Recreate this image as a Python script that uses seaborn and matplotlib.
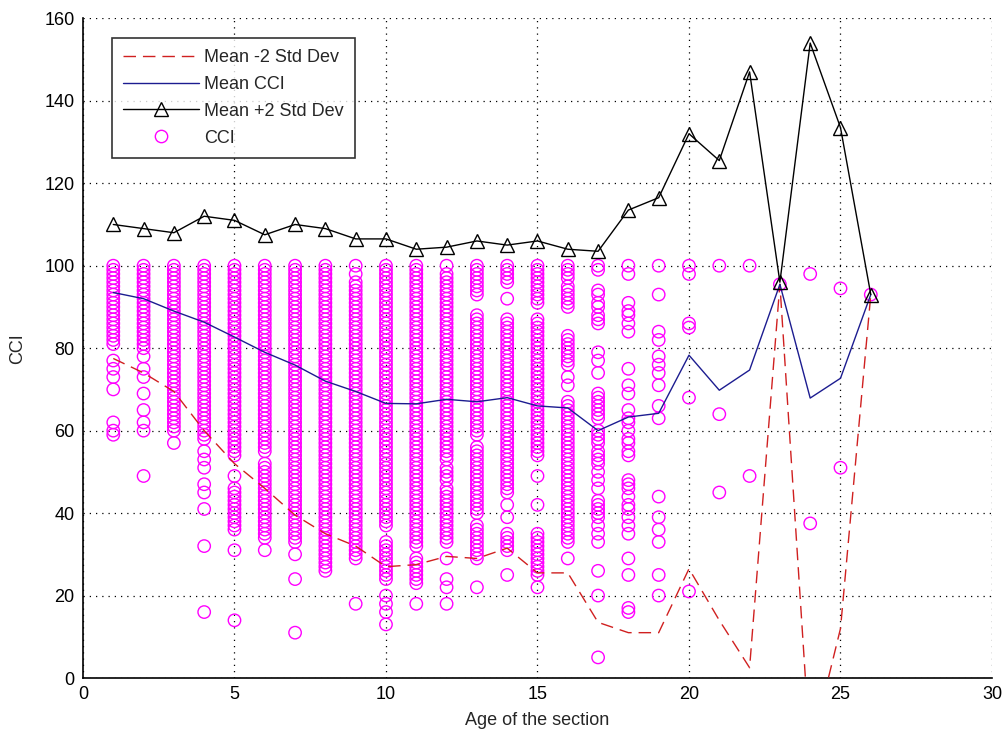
import numpy as np
import pandas as pd
import matplotlib
matplotlib.use("Agg")
import matplotlib.pyplot as plt
import seaborn as sns
from matplotlib.lines import Line2D

# ---------------- data ----------------
ages = list(range(1, 27))

mean_minus_2sd = [77.5, 74, 69.5, 60, 52, 46, 39.5, 35, 32, 27, 27.5, 29.5, 29, 31.5, 25.5,
                  25.5, 13.5, 11, 11, 26.5, 14, 2.5, 95.5, -18, 12, 93]
mean_cci = [93.5, 92, 89, 86.3, 82.7, 79, 75.9, 72, 69.5, 66.6, 66.5, 67.6, 67, 68, 66,
            65.5, 60, 63.3, 64.2, 78.3, 69.8, 74.7, 95.5, 67.9, 72.7, 93]
mean_plus_2sd = [110, 109, 108, 112, 111, 107.5, 110, 109, 106.5, 106.5, 104, 104.5, 106, 105, 106,
                 104, 103.5, 113.5, 116.5, 132, 125.5, 147, 96, 154, 133.5, 93]

cci_01 = [100, 99, 98, 97, 96, 95, 94, 93, 92, 91, 90, 89, 88, 87, 86, 85, 84, 83, 82, 81,
          77, 75, 73, 70, 62, 60, 59]
cci_02 = [100, 99, 98, 97, 96, 95, 94, 93, 92, 91, 90, 89, 88, 87, 86, 85, 84, 83, 82, 81, 80,
          78, 75, 73, 69, 65, 62, 60, 49]
cci_03 = [100, 99, 98, 97, 96, 95, 94, 93, 92, 91, 90, 89, 88, 87, 86, 85, 84, 83, 82, 81, 80,
          79, 78, 77, 76, 75, 74, 73, 72, 71, 70, 69, 68, 67, 66, 65, 64, 63, 62, 61, 60, 57]
cci_04 = [100, 99, 98, 97, 96, 95, 94, 93, 92, 91, 90, 89, 88, 87, 86, 85, 84, 83, 82, 81, 80,
          79, 78, 77, 76, 75, 74, 73, 72, 71, 70, 69, 68, 67, 66, 65, 64, 63, 62, 61, 60, 59, 58,
          55, 53, 51, 47, 45, 41, 32, 16]
cci_05 = [100, 99, 98, 97, 96, 95, 94, 93, 92, 91, 90, 89, 88, 87, 86, 85, 84, 83, 82, 81, 80,
          79, 78, 77, 76, 75, 74, 73, 72, 71, 70, 69, 68, 67, 66, 65, 64, 63, 62, 61, 60, 59, 58,
          57, 56, 55, 54, 49, 46, 45, 44, 43, 42, 41, 40, 39, 38, 37, 36, 31, 14]
cci_06 = [100, 99, 98, 97, 96, 95, 94, 93, 92, 91, 90, 89, 88, 87, 86, 85, 84, 83, 82, 81, 80,
          79, 78, 77, 76, 75, 74, 73, 72, 71, 70, 69, 68, 67, 66, 65, 64, 63, 62, 61, 60, 59, 58,
          57, 56, 55, 52, 51, 50, 49, 48, 47, 46, 45, 44, 43, 42, 41, 40, 39, 38, 37, 36, 35, 34,
          31]
cci_07 = [100, 99, 98, 97, 96, 95, 94, 93, 92, 91, 90, 89, 88, 87, 86, 85, 84, 83, 82, 81, 80,
          79, 78, 77, 76, 75, 74, 73, 72, 71, 70, 69, 68, 67, 66, 65, 64, 63, 62, 61, 60, 59, 58,
          57, 56, 55, 54, 53, 52, 51, 50, 49, 48, 47, 46, 45, 44, 43, 42, 41, 40, 39, 38, 37, 36,
          35, 34, 33, 30, 24, 11]
cci_08 = [100, 99, 98, 97, 96, 95, 94, 93, 92, 91, 90, 89, 88, 87, 86, 85, 84, 83, 82, 81, 80,
          79, 78, 77, 76, 75, 74, 73, 72, 71, 70, 69, 68, 67, 66, 65, 64, 63, 62, 61, 60, 59, 58,
          57, 56, 55, 54, 53, 52, 51, 50, 49, 48, 47, 46, 45, 44, 43, 42, 41, 40, 39, 38, 37, 36,
          35, 34, 33, 32, 31, 30, 29, 28, 27, 26]
cci_09 = [100, 98, 96, 95, 94, 93, 92, 91, 90, 89, 88, 87, 86, 85, 84, 83, 82, 81, 80,
          79, 78, 77, 76, 75, 74, 73, 72, 71, 70, 69, 68, 67, 66, 65, 64, 63, 62, 61, 60, 59, 58,
          57, 56, 55, 54, 53, 52, 51, 50, 49, 48, 47, 46, 45, 44, 43, 42, 41, 40, 39, 38, 37, 36,
          35, 34, 33, 32, 31, 30, 29, 18]
cci_10 = [100, 99, 98, 97, 96, 95, 94, 93, 92, 91, 90, 89, 88, 87, 86, 85, 84, 83, 82, 81, 80,
          79, 78, 77, 76, 75, 74, 73, 72, 71, 70, 69, 68, 67, 66, 65, 64, 63, 62, 61, 60, 59, 58,
          57, 56, 55, 54, 53, 52, 51, 50, 49, 48, 47, 46, 45, 44, 43, 42, 41, 40, 39, 38, 37,
          33, 32, 31, 30, 29, 28, 27, 26, 25, 24, 20, 18, 16, 13]
cci_11 = [100, 99, 98, 97, 96, 95, 94, 93, 92, 91, 90, 89, 88, 87, 86, 85, 84, 83, 82, 81, 80,
          79, 78, 77, 76, 75, 74, 73, 72, 71, 70, 69, 68, 67, 66, 65, 64, 63, 62, 61, 60, 59, 58,
          57, 56, 55, 54, 53, 52, 51, 50, 49, 48, 47, 46, 45, 44, 43, 42, 41, 40, 39, 38, 37, 36,
          35, 34, 33, 32, 29, 28, 27, 26, 25, 24, 23, 18]
cci_12 = [100, 98, 97, 96, 95, 94, 93, 92, 91, 90, 89, 88, 87, 86, 85, 84, 83, 82, 81, 80,
          79, 78, 77, 76, 75, 74, 73, 72, 71, 70, 69, 68, 67, 66, 65, 64, 63, 62, 61, 60, 59, 58,
          57, 56, 55, 54, 53, 51, 50, 49, 48, 46, 45, 44, 43, 42, 41, 40, 39, 38, 37, 36,
          35, 34, 33, 29, 24, 22, 18]
cci_13 = [100, 99, 98, 97, 96, 95, 94, 93, 88, 87, 86, 85, 84, 83, 82, 81, 80,
          79, 78, 77, 76, 75, 74, 73, 72, 71, 70, 69, 68, 67, 66, 65, 64, 63, 62, 61, 60, 59,
          56, 55, 54, 53, 52, 51, 50, 49, 48, 47, 46, 45, 44, 43, 42, 41, 40,
          37, 36, 35, 34, 33, 32, 31, 30, 29, 22]
cci_14 = [100, 99, 98, 97, 96, 92, 87, 86, 85, 84, 83, 82, 81, 80,
          79, 78, 77, 76, 75, 74, 73, 72, 71, 70, 69, 68, 67, 66, 65, 64, 63, 62, 61, 60, 59, 58,
          57, 56, 55, 54, 53, 52, 51, 50, 49, 48, 47, 46, 45, 42, 39, 35, 34, 33, 32, 31, 25]
cci_15 = [100, 99, 98, 97, 96, 95, 94, 93, 92, 91, 87, 86, 85, 84, 83, 82, 81, 80,
          79, 78, 77, 76, 75, 74, 73, 72, 71, 70, 69, 68, 67, 66, 65, 64, 63, 62, 61, 60, 59, 58,
          57, 56, 55, 54, 49, 42, 35, 34, 33, 32, 31, 30, 29, 28, 27, 26, 25, 22]
cci_16 = [100, 99, 98, 97, 95, 94, 93, 92, 91, 90, 83, 82, 81, 80, 79, 78, 77, 76, 73, 71,
          67, 66, 65, 64, 63, 62, 61, 60, 59, 58, 57, 56, 55, 54, 53, 52, 51, 50, 49, 48, 47, 46,
          45, 44, 43, 42, 41, 40, 39, 38, 37, 36, 35, 34, 33, 29]
cci_17 = [100, 99, 94, 93, 91, 90, 88, 87, 86, 79, 77, 74, 69, 68, 67, 66, 65, 64, 63,
          60, 59, 58, 57, 55, 54, 53, 52, 50, 48, 46, 43, 42, 41, 40, 39, 37, 35, 33, 26, 20, 5]
cci_18 = [100, 98, 91, 89, 88, 86, 84, 75, 71, 69, 65, 63, 62, 60, 58, 57, 55, 54,
          48, 47, 46, 44, 42, 41, 39, 37, 35, 29, 25, 17, 16]
cci_19 = [100, 93, 84, 82, 78, 76, 74, 71, 66, 63, 44, 39, 36, 33, 25, 20]
cci_20 = [100, 98, 86, 85, 68, 21]
cci_21 = [100, 64, 45]
cci_22 = [100, 49]
cci_23 = [95.5]
cci_24 = [98, 37.5]
cci_25 = [94.5, 51]
cci_26 = [93]

cci_by_age = [cci_01, cci_02, cci_03, cci_04, cci_05, cci_06, cci_07, cci_08, cci_09, cci_10,
              cci_11, cci_12, cci_13, cci_14, cci_15, cci_16, cci_17, cci_18, cci_19, cci_20,
              cci_21, cci_22, cci_23, cci_24, cci_25, cci_26]

x_ticks = [0, 5, 10, 15, 20, 25, 30]
y_ticks = [0, 20, 40, 60, 80, 100, 120, 140, 160]

points = pd.DataFrame({
    "age": np.repeat(ages, [len(c) for c in cci_by_age]),
    "cci": np.concatenate([np.asarray(c, dtype=float) for c in cci_by_age]),
})
lines = pd.DataFrame({"age": ages, "minus": mean_minus_2sd, "mean": mean_cci, "plus": mean_plus_2sd})

# ---------------- style ----------------
sns.set_style("white")
plt.rcParams["font.family"] = ["Liberation Sans", "DejaVu Sans"]

fig = plt.figure(figsize=(10.07, 7.33), dpi=100)
ax = fig.add_axes([0.0824, 0.075, 0.9027, 0.9])

MAG = "#ff00ff"
RED = "#d02020"
BLUE = "#1c1c90"
DASH = [9, 5]

sns.scatterplot(data=points, x="age", y="cci", marker="o", s=80, linewidth=1.0,
                ax=ax, zorder=2, legend=False)
pts = ax.collections[-1]
pts.set_facecolor("none")
pts.set_edgecolor(MAG)

sns.lineplot(data=lines, x="age", y="minus", ax=ax, color=RED, linewidth=1.0,
             zorder=3, legend=False)
ax.lines[-1].set_dashes(DASH)
sns.lineplot(data=lines, x="age", y="mean", ax=ax, color=BLUE, linewidth=1.0, zorder=3, legend=False)
sns.lineplot(data=lines, x="age", y="plus", ax=ax, color="black", linewidth=1.0,
             marker="^", markersize=10.5, markerfacecolor="none", markeredgecolor="black",
             markeredgewidth=1.0, zorder=4, legend=False)

ax.set_xlim(0, 30)
ax.set_ylim(0, 160)
ax.set_xticks(x_ticks)
ax.set_yticks(y_ticks)
ax.set_xticklabels([str(t) for t in x_ticks])
ax.set_yticklabels([str(t) for t in y_ticks])
ax.tick_params(direction="in", length=5, width=1, labelsize=13, colors="black", pad=6)
ax.grid(True, color="black", linestyle=(0, (1, 4)), linewidth=0.9)
for s in ["top", "right"]:
    ax.spines[s].set_visible(False)
for s in ["left", "bottom"]:
    ax.spines[s].set_color("black")
    ax.spines[s].set_linewidth(1.2)

ax.set_xlabel("Age of the section", fontsize=13, labelpad=6)
ax.set_ylabel("CCI", fontsize=13, labelpad=13)

handles = [
    Line2D([], [], color=RED, linewidth=1.0, dashes=DASH),
    Line2D([], [], color=BLUE, linewidth=1.0),
    Line2D([], [], color="black", linewidth=1.0, marker="^", markersize=10.5,
           markerfacecolor="none", markeredgecolor="black"),
    Line2D([], [], linestyle="none", marker="o", markersize=8.9,
           markerfacecolor="none", markeredgecolor=MAG),
]
labels = ["Mean -2 Std Dev", "Mean CCI", "Mean +2 Std Dev", "CCI"]
leg = ax.legend(handles, labels, loc="upper left", bbox_to_anchor=(0.032, 0.97),
                fontsize=13, frameon=True, fancybox=False, handlelength=4.2,
                handletextpad=0.3, borderpad=0.6, labelspacing=0.55, borderaxespad=0)
leg.get_frame().set_edgecolor("black")
leg.get_frame().set_linewidth(1.2)
leg.set_zorder(10)

fig.savefig("out.png", dpi=100, facecolor="white")
